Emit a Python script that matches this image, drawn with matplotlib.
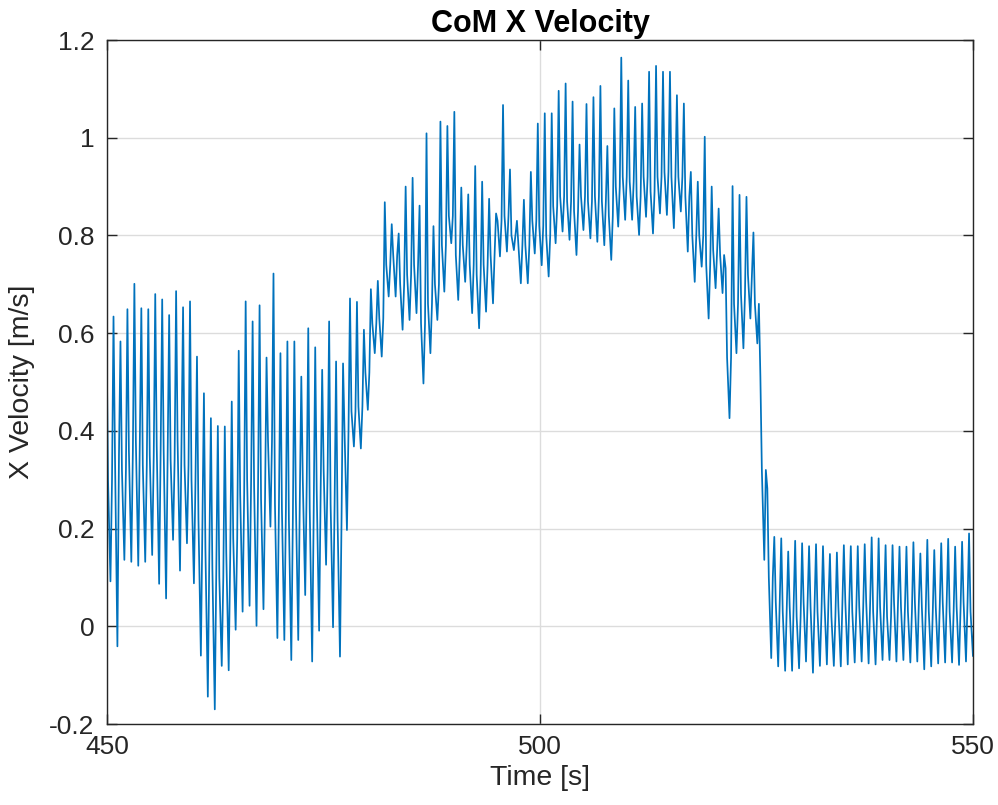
import numpy as np
import matplotlib
matplotlib.use("Agg")
import matplotlib.pyplot as plt
from matplotlib import font_manager

# ---- data (one gait cycle per entry) ----
t_first_spike = 449.95
t_last_spike = 549.55

peaks = [
    0.600, 0.634, 0.583, 0.649, 0.701, 0.651, 0.649, 0.680, 0.669, 0.637,
    0.686, 0.653, 0.665, 0.552, 0.477, 0.426, 0.410, 0.409, 0.460, 0.564,
    0.665, 0.624, 0.657, 0.550, 0.722, 0.559, 0.583, 0.583, 0.511, 0.610,
    0.571, 0.525, 0.624, 0.542, 0.538, 0.671, 0.664,
    0.607, 0.690, 0.707, 0.868, 0.823, 0.804, 0.900, 0.918, 0.861, 1.009,
    0.819, 1.033, 1.024, 1.053, 0.898, 0.884, 0.942, 0.910, 0.875, 0.845,
    1.067, 0.935, 0.830,
    0.873, 0.930, 1.029, 1.050, 1.050, 1.096, 1.111, 1.074, 0.986, 1.069,
    1.083, 1.106, 0.983, 1.060, 1.164, 1.117, 1.063, 1.070, 1.135, 1.147,
    1.135,
    1.135, 1.087, 1.070, 0.930, 0.910, 1.002, 0.900, 0.855, 0.733, 0.901,
    0.883, 0.879, 0.806, 0.511,
    0.282,
    0.183, 0.180, 0.153, 0.175, 0.170, 0.164, 0.168, 0.164, 0.148, 0.151,
    0.166, 0.164, 0.164, 0.168, 0.182, 0.180, 0.166, 0.166, 0.163, 0.163,
    0.172, 0.149, 0.177, 0.156, 0.170, 0.179, 0.163, 0.173, 0.190,
]

troughs = [
    0.092, -0.041, 0.136, 0.132, 0.124, 0.132, 0.146, 0.087, 0.057, 0.177,
    0.114, 0.170, 0.088, -0.060, -0.144, -0.170, -0.081, -0.090, -0.007, 0.030,
    0.042, 0.001, 0.035, 0.204, -0.024, -0.028, -0.069, -0.028, 0.064, -0.072,
    -0.009, 0.126, -0.002, -0.062, 0.197,
    0.368, 0.364,
    0.443, 0.559, 0.552, 0.675, 0.675, 0.607, 0.627, 0.641, 0.497, 0.559,
    0.627, 0.685, 0.784, 0.668, 0.705, 0.641, 0.610, 0.644, 0.661, 0.757,
    0.767,
    0.770, 0.702, 0.702, 0.763, 0.739, 0.716,
    0.784, 0.808, 0.791, 0.760, 0.811, 0.794, 0.787, 0.780, 0.750, 0.818,
    0.832, 0.832, 0.801, 0.838, 0.804, 0.845, 0.842,
    0.815, 0.849, 0.767, 0.705, 0.736, 0.630, 0.692, 0.682, 0.426, 0.559,
    0.569, 0.630, 0.579, 0.136, -0.065,
    -0.082, -0.091, -0.091, -0.086, -0.072, -0.095, -0.081, -0.078, -0.081, -0.082,
    -0.078, -0.074, -0.072, -0.076, -0.078, -0.069, -0.069, -0.072, -0.069, -0.074,
    -0.072, -0.088, -0.082, -0.076, -0.074, -0.074, -0.079, -0.072, -0.061,
]

mids = [
    0.30, 0.35, 0.32, 0.36, 0.38, 0.33, 0.35, 0.37, 0.36, 0.34, 0.38, 0.33, 0.30,
    0.22, 0.16, 0.12, 0.10, 0.15, 0.18,
    0.27, 0.30, 0.29, 0.26,
    0.38, 0.25, 0.24, 0.22, 0.26, 0.30, 0.24, 0.28, 0.32, 0.25, 0.22,
    0.40, 0.44, 0.45,
    0.52, 0.62, 0.63,
    0.74, 0.76, 0.70, 0.72, 0.74,
    0.62, 0.66, 0.70,
    0.78, 0.84, 0.76, 0.78, 0.74, 0.72, 0.74, 0.76,
    0.83, 0.84, 0.80, 0.78, 0.78, 0.83, 0.82, 0.80,
    0.86, 0.88, 0.87, 0.85, 0.88, 0.87, 0.88, 0.87, 0.84, 0.90, 0.92, 0.91,
    0.88, 0.92, 0.89, 0.92, 0.93,
    0.92, 0.92, 0.88, 0.80, 0.80, 0.74, 0.77, 0.76, 0.55, 0.66, 0.68, 0.72, 0.66,
    0.32,
    0.10,
    0.05, 0.03, 0.04, 0.02, 0.05, 0.04, 0.03, 0.05, 0.02, 0.04, 0.05, 0.03, 0.04,
    0.05, 0.03, 0.04, 0.02, 0.05, 0.04, 0.03, 0.05, 0.04, 0.03, 0.04, 0.05, 0.03,
    0.04, 0.05, 0.03,
]

xticks = [450, 500, 550]
yticks = [-0.2, 0, 0.2, 0.4, 0.6, 0.8, 1.0, 1.2]
ytick_labels = ["-0.2", "0", "0.2", "0.4", "0.6", "0.8", "1", "1.2"]

# ---- build the sample sequence: peak, mid, trough, mid for each cycle ----
n = len(peaks)
spike_t = np.linspace(t_first_spike, t_last_spike, n)
phase = np.array([0.0, 0.17, 0.45, 0.63])
t = (spike_t[:, None] + phase[None, :]).ravel()
v = np.column_stack([peaks, mids, troughs, mids]).ravel()

# ---- fonts ----
installed = {f.name for f in font_manager.fontManager.ttflist}
if "Liberation Sans Narrow" in installed:
    fam = ["Liberation Sans Narrow", "DejaVu Sans"]
    tick_fs, label_fs, title_fs = 22, 23.5, 25.5
else:
    fam = ["Liberation Sans", "DejaVu Sans"]
    tick_fs, label_fs, title_fs = 19, 20.5, 22
plt.rcParams["font.family"] = fam

axc = "#262626"
fig = plt.figure(figsize=(9.98, 8.05), dpi=100)
ax = fig.add_axes([0.1072, 0.1006, 0.8677, 0.8497])

ax.plot(t, v, color="#0072BD", linewidth=1.25)

ax.set_xlim(450, 550)
ax.set_ylim(-0.2, 1.2)
ax.set_xticks(xticks)
ax.set_yticks(yticks)
ax.set_yticklabels(ytick_labels)

ax.grid(True, color="#dcdcdc", linewidth=1.0)
ax.set_axisbelow(True)
for s in ax.spines.values():
    s.set_color(axc)
    s.set_linewidth(1.0)
ax.tick_params(direction="in", length=7, width=1.0, colors=axc,
               labelsize=tick_fs, top=True, right=True, pad=8)
ax.tick_params(axis="y", pad=9)

ax.set_xlabel("Time [s]", fontsize=label_fs, color=axc, labelpad=4)
ax.set_ylabel("X Velocity [m/s]", fontsize=label_fs, color=axc, labelpad=10)
ax.set_title("CoM X Velocity", fontsize=title_fs, fontweight="bold",
             color="black", pad=6)

fig.savefig("out.png", dpi=100)
